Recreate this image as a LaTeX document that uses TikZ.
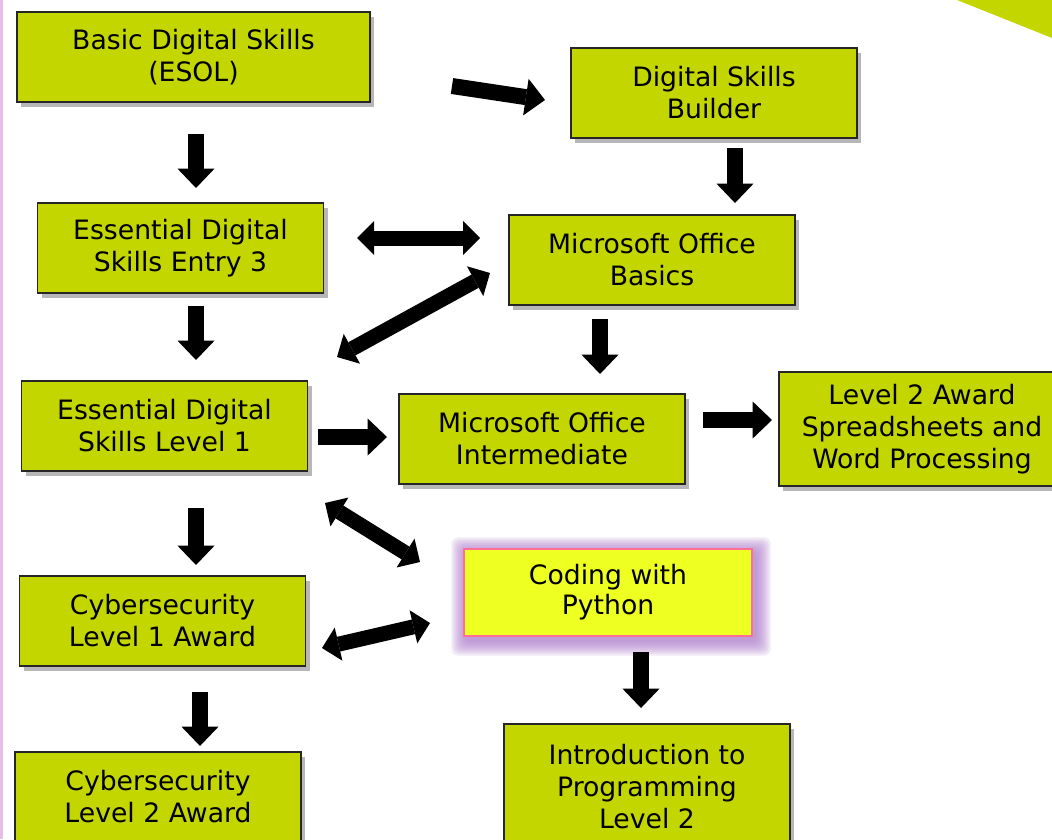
\documentclass[tikz,border=0pt]{standalone}
\usepackage{fontspec}
\setmainfont{DejaVu Sans}
\usepackage{xcolor}
\usetikzlibrary{arrows.meta}
\usetikzlibrary{shadows}
\usetikzlibrary{backgrounds}
\usetikzlibrary{calc}
\definecolor{boxlime}{RGB}{196,214,0}
\definecolor{codefill}{RGB}{238,255,34}
\definecolor{codeline}{RGB}{255,110,150}
\definecolor{halo}{RGB}{175,125,205}
\definecolor{edgepink}{RGB}{232,190,232}

\begin{document}
\begin{tikzpicture}
  [ x=0.75pt, y=-0.75pt,
    box/.style={draw=black!85, line width=0.9pt, fill=boxlime,
      align=center, inner sep=0pt,
      minimum width=214.5pt, minimum height=67.5pt,
      font=\fontsize{20}{24}\selectfont,
      drop shadow={shadow xshift=3pt, shadow yshift=-4pt,
        opacity=.4, fill=black!70}},
    codebox/.style={draw=codeline, line width=0.9pt, fill=codefill,
      align=center, inner sep=0pt,
      minimum width=216pt, minimum height=65.25pt,
      font=\fontsize{20}{22.5}\selectfont},
    arr/.style={line width=12pt,
      -{Triangle[width=27.75pt,length=14.5pt,line width=0pt]}},
    darr/.style={line width=11.25pt,
      {Triangle[width=25.5pt,length=12.75pt,line width=0pt]}-{Triangle[width=25.5pt,length=12.75pt,line width=0pt]}}
  ]
  \useasboundingbox (0,0) rectangle (1052,839);

  % page decoration
  \draw[edgepink, line width=1.8pt] (1.5,0) -- (1.5,839);
  \fill[boxlime] (957,0) -- (1052,0) -- (1052,38) -- cycle;

  \node (basic) at (193.5,57)  [box, minimum width=264.75pt] {Basic Digital Skills\\(ESOL)};
  \node (dsb)   at (714,93)    [box] {Digital Skills\\Builder};
  \node (eds3)  at (180.5,248) [box] {Essential Digital\\Skills Entry 3};
  \node (mob)   at (652,260)   [box] {Microsoft Office\\Basics};
  \node (eds1)  at (164.5,426) [box] {Essential Digital\\Skills Level 1};
  \node (moi)   at (542,439)   [box] {Microsoft Office\\Intermediate};
  \node (l2a)   at (922,429)   [box, minimum height=85.5pt] {Level 2 Award\\Spreadsheets and\\Word Processing};
  \node (code)  at (608,592.5) [codebox] {Coding with\\Python};
  \node (cyb1)  at (162.5,621) [box] {Cybersecurity\\Level 1 Award};
  \node (intro) at (647,786.5) [box, minimum height=93.75pt] {Introduction to\\Programming\\Level 2};
  \node (cyb2)  at (158,797)   [box] {Cybersecurity\\Level 2 Award};

  % white page and glow round the python box
  \begin{scope}[on background layer]
    \fill[white] (0,0) rectangle (1052,839);
    \foreach \g in {15,13,...,1}
      \fill[halo, opacity=.16, rounded corners=5pt]
        ($(code.north west)+(-\g+3,-\g+4)$) rectangle ($(code.south east)+(\g+3,\g+4)$);
  \end{scope}

  % arrow ends
  \coordinate (a1) at (196,134);  \coordinate (b1) at (196,188);
  \coordinate (a2) at (452,86);   \coordinate (b2) at (545,100);
  \coordinate (a3) at (735,148);  \coordinate (b3) at (735,203);
  \coordinate (a4) at (357,238);  \coordinate (b4) at (480,238);
  \coordinate (a5) at (337,357);  \coordinate (b5) at (490,273);
  \coordinate (a6) at (196,306);  \coordinate (b6) at (196,360);
  \coordinate (a7) at (600,319);  \coordinate (b7) at (600,374);
  \coordinate (a8) at (318,437);  \coordinate (b8) at (387,437);
  \coordinate (a9) at (703,420);  \coordinate (b9) at (772,420);
  \coordinate (a10) at (325,503); \coordinate (b10) at (420,562);
  \coordinate (a11) at (196,508); \coordinate (b11) at (196,565);
  \coordinate (a12) at (322,648); \coordinate (b12) at (430,623);
  \coordinate (a13) at (641,652); \coordinate (b13) at (641,708);
  \coordinate (a14) at (200,692); \coordinate (b14) at (200,746);

  \draw[arr]  (a1) -- (b1);
  \draw[arr]  (a2) -- (b2);
  \draw[arr]  (a3) -- (b3);
  \draw[darr] (a4) -- (b4);
  \draw[darr] (a5) -- (b5);
  \draw[arr]  (a6) -- (b6);
  \draw[arr]  (a7) -- (b7);
  \draw[arr]  (a8) -- (b8);
  \draw[arr]  (a9) -- (b9);
  \draw[darr] (a10) -- (b10);
  \draw[arr]  (a11) -- (b11);
  \draw[darr] (a12) -- (b12);
  \draw[arr]  (a13) -- (b13);
  \draw[arr]  (a14) -- (b14);
\end{tikzpicture}
\end{document}
